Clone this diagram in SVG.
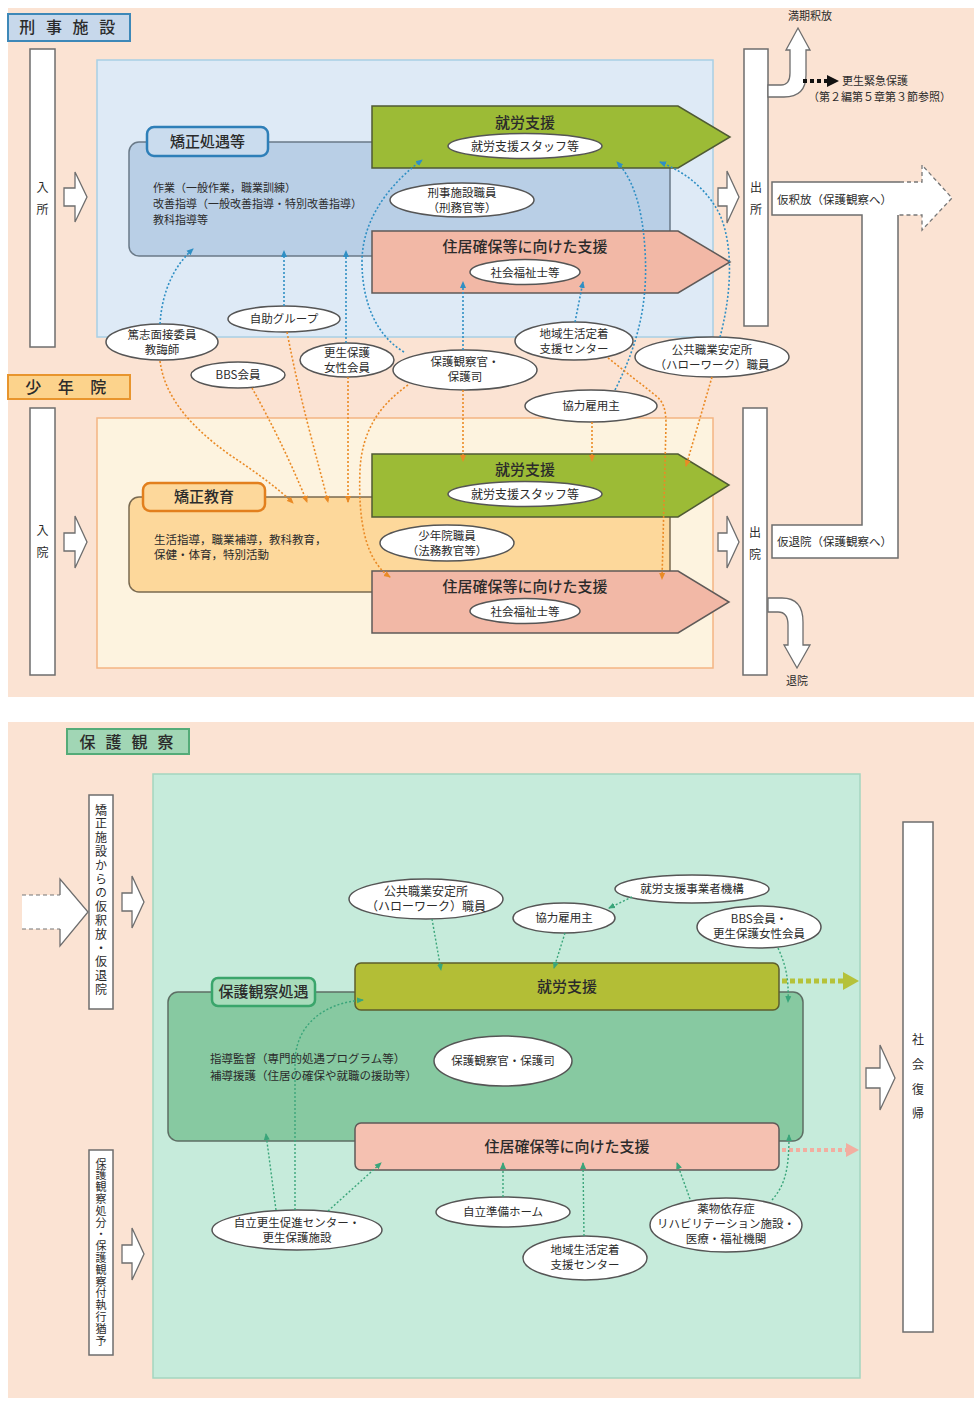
<svg xmlns="http://www.w3.org/2000/svg" width="974" height="1403" viewBox="0 0 974 1403">
<defs>
<style>
text{font-family:'Noto Sans CJK JP','Noto Sans CJK SC',sans-serif;fill:#2b2b2b;}
.bg{fill:#fbe3d3;}
.bar{fill:#fff;stroke:#6e6e6e;stroke-width:1.5;}
.harrow{fill:#fff;stroke:#6e6e6e;stroke-width:1.3;}
.ell{fill:#fff;stroke:#555;stroke-width:1.5;}
.et{font-size:11.5px;text-anchor:middle;}
.big{font-size:15px;text-anchor:middle;font-weight:500;}
.hdr{font-size:16px;text-anchor:middle;font-weight:500;}
.body{font-size:11px;}
.cb{fill:none;stroke:#2f8fc4;stroke-width:1.6;stroke-dasharray:2 2;marker-end:url(#mb);}
.co{fill:none;stroke:#ea8a25;stroke-width:1.6;stroke-dasharray:2 2;marker-end:url(#mo);}
.ct{fill:none;stroke:#3aa57a;stroke-width:1.4;stroke-dasharray:2 2;marker-end:url(#mt);}
.garrow{fill:#9cbb36;stroke:#4f5a34;stroke-width:1.5;}
.parrow{fill:#f2b8a6;stroke:#5f5a58;stroke-width:1.5;}
.vt{writing-mode:vertical-rl;}
</style>
<marker id="mb" markerWidth="7" markerHeight="7" refX="6" refY="3.5" orient="auto" markerUnits="userSpaceOnUse"><path d="M0,0.5 L7,3.5 L0,6.5 Z" fill="#2f8fc4"/></marker>
<marker id="mo" markerWidth="7" markerHeight="7" refX="6" refY="3.5" orient="auto" markerUnits="userSpaceOnUse"><path d="M0,0.5 L7,3.5 L0,6.5 Z" fill="#ea8a25"/></marker>
<marker id="mt" markerWidth="7" markerHeight="7" refX="6" refY="3.5" orient="auto" markerUnits="userSpaceOnUse"><path d="M0,0.5 L7,3.5 L0,6.5 Z" fill="#3aa57a"/></marker>
</defs>

<!-- ===== TOP PANEL ===== -->
<rect class="bg" x="8" y="8" width="966" height="689"/>
<g id="hdr-keiji">
<rect x="8" y="14" width="122" height="27" fill="#c7d8eb" stroke="#3d88b8" stroke-width="2"/>
<text class="hdr" x="69" y="33" letter-spacing="3.5">刑 事 施 設</text>
</g>
<g id="bar-nyusho">
<rect class="bar" x="30" y="49" width="25" height="298"/>
<text x="42.5" y="192" font-size="12" text-anchor="middle">入</text>
<text x="42.5" y="214" font-size="12" text-anchor="middle">所</text>
</g>
<path class="harrow" d="M64,188 L75,188 L75,172 L87,197 L75,222 L75,206 L64,206 Z"/>

<rect id="region-blue" x="97" y="60" width="616" height="277" fill="#deeaf6" stroke="#a8cfe5" stroke-width="1.5"/>

<g id="kyosei-shogu">
<rect x="129" y="142" width="541" height="114" rx="10" fill="#b9cfe6" stroke="#6a7a88" stroke-width="1.5"/>
<rect x="147" y="127" width="121" height="29" rx="7" fill="#cadcee" stroke="#2e7fb8" stroke-width="2.5"/>
<text class="big" x="207.5" y="147">矯正処遇等</text>
<text class="body" x="153" y="192">作業（一般作業，職業訓練）</text>
<text class="body" x="153" y="208">改善指導（一般改善指導・特別改善指導）</text>
<text class="body" x="153" y="224">教科指導等</text>
</g>

<g id="shuro1">
<polygon class="garrow" points="372,106 678,106 730,137 678,168 372,168"/>
<text class="big" x="525" y="128">就労支援</text>
<ellipse class="ell" cx="525" cy="146" rx="77" ry="12.5"/>
<text class="et" x="525" y="150.5" style="font-size:12px">就労支援スタッフ等</text>
</g>
<g id="keiji-shokuin">
<ellipse class="ell" cx="462" cy="200" rx="72" ry="17"/>
<text class="et" x="462" y="197">刑事施設職員</text>
<text class="et" x="462" y="212">（刑務官等）</text>
</g>
<g id="jukyo1">
<polygon class="parrow" points="372,231 678,231 730,262 678,293 372,293"/>
<text class="big" x="525" y="252">住居確保等に向けた支援</text>
<ellipse class="ell" cx="525" cy="272" rx="55" ry="12.5"/>
<text class="et" x="525" y="276.5">社会福祉士等</text>
</g>

<path class="harrow" d="M718,188 L727,188 L727,171 L739,197 L727,223 L727,206 L718,206 Z"/>
<g id="bar-shussho">
<rect class="bar" x="744" y="49" width="24" height="277"/>
<text x="756" y="192" font-size="12" text-anchor="middle">出</text>
<text x="756" y="214" font-size="12" text-anchor="middle">所</text>
</g>

<g id="manki">
<path class="harrow" d="M768,85 L781,85 Q790,85 790,73 L790,50 L786,50 L798,28 L810,50 L806,50 L806,75 Q806,97 784,97 L768,97 Z"/>
<text x="810" y="20" font-size="11" text-anchor="middle">満期釈放</text>
<line x1="803" y1="81" x2="827" y2="81" stroke="#111" stroke-width="4" stroke-dasharray="4 3"/>
<polygon points="827,75 839,81 827,87" fill="#111"/>
<text x="842" y="85" font-size="11">更生緊急保護</text>
<text x="808" y="101" font-size="11">（第２編第５章第３節参照）</text>
</g>

<g id="karishakuho">
<path d="M772,182 L922,182 L922,165 L952,198 L922,230 L922,215 L898,215 L898,558 L772,558 L772,525 L862,525 L862,215 L772,215 Z" fill="#fff" stroke="none"/>
<path d="M900,182 L772,182 L772,215 L862,215 L862,525 L772,525 L772,558 L898,558 L898,215" fill="none" stroke="#6e6e6e" stroke-width="1.5"/>
<path d="M900,182 L922,182 L922,165 L952,198 L922,230 L922,215 L898,215" fill="none" stroke="#777" stroke-width="1.3" stroke-dasharray="4 3"/>
<text x="777" y="204" font-size="11.5">仮釈放（保護観察へ）</text>
<text x="777" y="546" font-size="11.5">仮退院（保護観察へ）</text>
</g>

<g id="hdr-shonen">
<rect x="8" y="375" width="122" height="24" fill="#fcd38c" stroke="#e8952d" stroke-width="2"/>
<text class="hdr" x="69" y="393" letter-spacing="6.5">少 年 院</text>
</g>
<g id="bar-nyuin">
<rect class="bar" x="30" y="408" width="25" height="267"/>
<text x="42.5" y="535" font-size="12" text-anchor="middle">入</text>
<text x="42.5" y="557" font-size="12" text-anchor="middle">院</text>
</g>
<path class="harrow" d="M64,533 L75,533 L75,516 L87,542 L75,568 L75,551 L64,551 Z"/>

<rect id="region-orange" x="97" y="418" width="616" height="250" fill="#fdf3df" stroke="#f4b583" stroke-width="1.5"/>

<g id="kyosei-kyoiku">
<rect x="129" y="497" width="541" height="95" rx="10" fill="#fdd89b" stroke="#7a6a50" stroke-width="1.5"/>
<rect x="143" y="483" width="122" height="28" rx="7" fill="#fdd89b" stroke="#e27f1d" stroke-width="2.5"/>
<text class="big" x="204" y="502">矯正教育</text>
<text x="154" y="544" font-size="11.5">生活指導，職業補導，教科教育，</text>
<text x="154" y="559" font-size="11.5">保健・体育，特別活動</text>
</g>
<g id="shuro2">
<polygon class="garrow" points="372,454 678,454 729,485 678,517 372,517"/>
<text class="big" x="525" y="475">就労支援</text>
<ellipse class="ell" cx="525" cy="494" rx="77" ry="12.5"/>
<text class="et" x="525" y="498.5" style="font-size:12px">就労支援スタッフ等</text>
</g>
<g id="shonenin-shokuin">
<ellipse class="ell" cx="447" cy="543" rx="67" ry="18"/>
<text class="et" x="447" y="540">少年院職員</text>
<text class="et" x="447" y="555">（法務教官等）</text>
</g>
<g id="jukyo2">
<polygon class="parrow" points="372,571 678,571 729,602 678,633 372,633"/>
<text class="big" x="525" y="592">住居確保等に向けた支援</text>
<ellipse class="ell" cx="525" cy="611" rx="55" ry="12.5"/>
<text class="et" x="525" y="615.5">社会福祉士等</text>
</g>

<path class="harrow" d="M718,533 L727,533 L727,516 L739,542 L727,568 L727,551 L718,551 Z"/>
<g id="bar-shutsuin">
<rect class="bar" x="743" y="408" width="24" height="267"/>
<text x="755" y="537" font-size="12" text-anchor="middle">出</text>
<text x="755" y="559" font-size="12" text-anchor="middle">院</text>
</g>
<g id="taiin">
<path class="harrow" d="M768,598 L782,598 Q803,598 803,622 L803,645 L810,645 L797,668 L784,645 L788,645 L788,625 Q788,612 778,612 L768,612 Z"/>
<text x="797" y="685" font-size="11" text-anchor="middle">退院</text>
</g>

<!-- middle ellipses -->
<g id="tokushi"><ellipse class="ell" cx="162" cy="342" rx="56" ry="18"/><text class="et" x="162" y="339">篤志面接委員</text><text class="et" x="162" y="354">教誨師</text></g>
<g id="jijo"><ellipse class="ell" cx="284" cy="319" rx="56" ry="13"/><text class="et" x="284" y="323">自助グループ</text></g>
<g id="bbs1"><ellipse class="ell" cx="238" cy="375" rx="47" ry="13"/><text class="et" x="238" y="379">BBS会員</text></g>
<g id="josei1"><ellipse class="ell" cx="347" cy="360" rx="47" ry="17"/><text class="et" x="347" y="357">更生保護</text><text class="et" x="347" y="372">女性会員</text></g>
<g id="hogokan1"><ellipse class="ell" cx="465" cy="370" rx="72" ry="20"/><text class="et" x="465" y="366">保護観察官・</text><text class="et" x="465" y="381">保護司</text></g>
<g id="chiiki1"><ellipse class="ell" cx="574" cy="341" rx="59" ry="19"/><text class="et" x="574" y="338">地域生活定着</text><text class="et" x="574" y="353">支援センター</text></g>
<g id="hellowork1"><ellipse class="ell" cx="712" cy="357" rx="77" ry="20"/><text class="et" x="712" y="354">公共職業安定所</text><text class="et" x="712" y="369">（ハローワーク）職員</text></g>
<g id="kyoryoku1"><ellipse class="ell" cx="591" cy="406" rx="66" ry="16"/><text class="et" x="591" y="410">協力雇用主</text></g>

<!-- ===== BOTTOM PANEL ===== -->
<rect class="bg" x="8" y="722" width="966" height="676"/>
<g id="hdr-hogo">
<rect x="67" y="729" width="122" height="25" fill="#a1d6b5" stroke="#54ab78" stroke-width="2"/>
<text class="hdr" x="128" y="748" letter-spacing="3.2">保 護 観 察</text>
</g>
<rect id="region-green" x="153" y="774" width="707" height="604" fill="#c6ebdb" stroke="#a4d6c0" stroke-width="1.5"/>

<g id="in-arrow-dashed">
<path d="M22,895 L60,895 L60,879 L88,912 L60,946 L60,929 L22,929 Z" fill="#fff" stroke="none"/>
<path d="M60,895 L60,879 L88,912 L60,946 L60,929" fill="none" stroke="#6e6e6e" stroke-width="1.3"/>
<path d="M22,895 L60,895 M22,929 L60,929" fill="none" stroke="#777" stroke-width="1.2" stroke-dasharray="4 3"/>
</g>
<g id="bar-karishaku">
<rect class="bar" x="89" y="795" width="24" height="214"/>
<text class="vt" x="101" y="804" style="font-size:12px;letter-spacing:1.8px">矯正施設からの仮釈放・仮退院</text>
</g>
<path class="harrow" d="M122,893 L132,893 L132,876 L144,902 L132,928 L132,911 L122,911 Z"/>
<g id="bar-shobun">
<rect class="bar" x="89" y="1150" width="24" height="205"/>
<text class="vt" x="101" y="1158" style="font-size:11px;letter-spacing:0.8px">保護観察処分・保護観察付執行猶予</text>
</g>
<path class="harrow" d="M122,1245 L132,1245 L132,1228 L144,1254 L132,1280 L132,1263 L122,1263 Z"/>

<g id="hogo-shogu">
<rect x="168" y="992" width="635" height="149" rx="10" fill="#87c9a1" stroke="#5d6e64" stroke-width="1.5"/>
<rect x="212" y="978" width="103" height="28" rx="6" fill="#a8dcbb" stroke="#3aa56b" stroke-width="2.5"/>
<text class="big" x="263.5" y="997">保護観察処遇</text>
<text x="210" y="1063" font-size="11.5">指導監督（専門的処遇プログラム等）</text>
<text x="210" y="1080" font-size="11.5">補導援護（住居の確保や就職の援助等）</text>
</g>
<g id="hogokan2"><ellipse class="ell" cx="503" cy="1061" rx="69" ry="25"/><text class="et" x="503" y="1065">保護観察官・保護司</text></g>

<g id="shuro3">
<rect x="355" y="963" width="424" height="47" rx="6" fill="#b3be36" stroke="#5d5d2c" stroke-width="1.5"/>
<text class="big" x="567" y="992">就労支援</text>
<line x1="782" y1="981" x2="845" y2="981" stroke="#b5c23a" stroke-width="5" stroke-dasharray="5 3"/>
<polygon points="843,972 859,981 843,990" fill="#b5c23a"/>
</g>
<g id="jukyo3">
<rect x="355" y="1123" width="424" height="47" rx="6" fill="#f5c1b1" stroke="#5f5a58" stroke-width="1.5"/>
<text class="big" x="567" y="1152">住居確保等に向けた支援</text>
<line x1="782" y1="1150" x2="847" y2="1150" stroke="#f2aea0" stroke-width="4" stroke-dasharray="4 3"/>
<polygon points="846,1143 859,1150 846,1157" fill="#f2aea0"/>
</g>

<g id="bar-shakai">
<rect class="bar" x="903" y="822" width="30" height="510"/>
<text x="918" y="1044" font-size="12" text-anchor="middle">社</text>
<text x="918" y="1069" font-size="12" text-anchor="middle">会</text>
<text x="918" y="1094" font-size="12" text-anchor="middle">復</text>
<text x="918" y="1118" font-size="12" text-anchor="middle">帰</text>
</g>
<path class="harrow" d="M866,1068 L880,1068 L880,1045 L895,1078 L880,1110 L880,1088 L866,1088 Z"/>

<g id="hellowork2"><ellipse class="ell" cx="426" cy="899" rx="77" ry="20"/><text class="et" x="426" y="896" style="font-size:12px">公共職業安定所</text><text class="et" x="426" y="911" style="font-size:12px">（ハローワーク）職員</text></g>
<g id="kyoryoku2"><ellipse class="ell" cx="564" cy="918" rx="51" ry="15"/><text class="et" x="564" y="922">協力雇用主</text></g>
<g id="kikou"><ellipse class="ell" cx="692" cy="889" rx="77" ry="14"/><text class="et" x="692" y="893">就労支援事業者機構</text></g>
<g id="bbs2"><ellipse class="ell" cx="759" cy="927" rx="62" ry="21"/><text class="et" x="759" y="923">BBS会員・</text><text class="et" x="759" y="938">更生保護女性会員</text></g>
<g id="jiritsu-center"><ellipse class="ell" cx="297" cy="1230" rx="85" ry="20"/><text class="et" x="297" y="1227">自立更生促進センター・</text><text class="et" x="297" y="1242">更生保護施設</text></g>
<g id="jiritsu-home"><ellipse class="ell" cx="503" cy="1212" rx="67" ry="15"/><text class="et" x="503" y="1216">自立準備ホーム</text></g>
<g id="chiiki2"><ellipse class="ell" cx="585" cy="1258" rx="62" ry="22"/><text class="et" x="585" y="1254">地域生活定着</text><text class="et" x="585" y="1269">支援センター</text></g>
<g id="yakubutsu"><ellipse class="ell" cx="726" cy="1225" rx="76" ry="27"/><text class="et" x="726" y="1213">薬物依存症</text><text class="et" x="726" y="1228">リハビリテーション施設・</text><text class="et" x="726" y="1243">医療・福祉機関</text></g>

<!-- ===== CONNECTORS ===== -->
<g id="connectors">
<path class="cb" d="M160,324 C162,290 175,265 193,249"/>
<path class="cb" d="M284,306 L284,251"/>
<path class="cb" d="M346,343 L346,251"/>
<path class="cb" d="M404,352 C375,335 362,300 362,262 C362,215 395,180 422,160"/>
<path class="cb" d="M463,350 L463,282"/>
<path class="cb" d="M575,322 L583,282"/>
<path class="cb" d="M615,390 C640,340 648,300 645,250 C642,200 630,176 617,162"/>
<path class="cb" d="M720,337 C730,300 735,250 720,215 C705,185 680,170 660,162"/>

<path class="co" d="M160,361 C165,400 195,430 230,455 C260,475 280,490 293,503"/>
<path class="co" d="M252,388 C270,420 290,460 307,502"/>
<path class="co" d="M287,332 C300,400 315,450 328,502"/>
<path class="co" d="M348,377 L348,502"/>
<path class="co" d="M408,385 C380,405 362,430 360,470 C358,520 365,560 390,577"/>
<path class="co" d="M463,390 L463,461"/>
<path class="co" d="M592,422 L592,461"/>
<path class="co" d="M608,358 L655,395 C664,402 666,410 666,425 L662,579"/>
<path class="co" d="M712,377 L686,466"/>

<path class="ct" d="M432,919 L441,970"/>
<path class="ct" d="M632,897 L609,908"/>
<path class="ct" d="M565,933 L554,968"/>
<path class="ct" d="M778,948 C786,965 789,980 788,1002"/>
<path class="ct" d="M276,1210 L266,1134"/>
<path class="ct" d="M295,1210 L295,1060 C297,1020 330,1002 363,1000"/>
<path class="ct" d="M328,1211 L381,1163"/>
<path class="ct" d="M503,1197 L503,1163"/>
<path class="ct" d="M584,1236 L583,1163"/>
<path class="ct" d="M690,1199 L677,1163"/>
<path class="ct" d="M772,1200 C785,1185 789,1170 789,1135"/>
</g>
</svg>
